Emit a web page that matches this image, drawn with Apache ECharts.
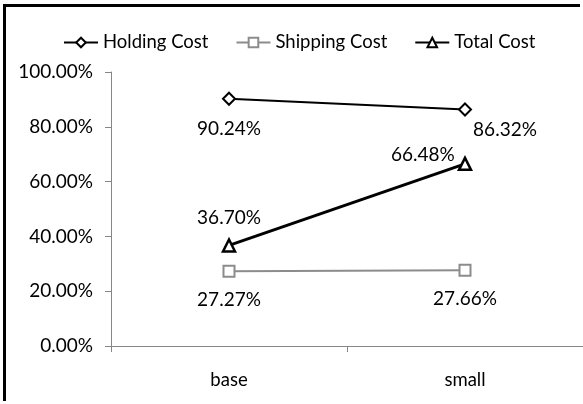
<!DOCTYPE html>
<html>
<head>
<meta charset="utf-8">
<script src="https://cdn.jsdelivr.net/npm/echarts@6/dist/echarts.min.js"></script>
<style>
  html, body { margin: 0; padding: 0; background: #fff; overflow: hidden; }
  #wrap { position: relative; width: 583px; height: 404px; overflow: hidden; }
  #chart { position: absolute; left: 0; top: 0; width: 583px; height: 404px; }
  #frame { position: absolute; left: 3px; top: 4px; width: 577px; height: 397px;
           border-left: 3px solid #000; border-top: 3px solid #000; pointer-events: none; box-sizing: border-box; }
</style>
</head>
<body>
<div id="wrap">
  <div id="chart"></div>
  <div id="frame"></div>
</div>
<script>
const categories = ['base', 'small'];
const holdingCost = [90.24, 86.32];
const shippingCost = [27.27, 27.66];
const totalCost = [36.70, 66.48];
const seriesNames = ['Holding Cost', 'Shipping Cost', 'Total Cost'];

const FONT = 'Lato';
const FS = 18.5;
const NFS = 19;
const pct = v => v.toFixed(2) + '%';

function items(values, labelFor) {
  return values.map((v, i) => ({ value: v, label: labelFor(i) }));
}

const chart = echarts.init(document.getElementById('chart'), null, { renderer: 'canvas' });
chart.setOption({
  animation: false,
  backgroundColor: '#fff',
  textStyle: { fontFamily: FONT },
  legend: {
    left: 58,
    top: 28,
    itemWidth: 34,
    itemHeight: 12,
    itemGap: 27,
    textStyle: { fontFamily: FONT, fontSize: FS, color: '#000' },
    data: seriesNames
  },
  grid: { left: 111, right: 0, top: 72, bottom: 58 },
  xAxis: {
    type: 'category',
    data: categories,
    axisLine: { lineStyle: { color: '#868686', width: 1 } },
    axisTick: { show: true, length: 6, lineStyle: { color: '#868686' } },
    axisLabel: { fontFamily: FONT, fontSize: FS, color: '#000', margin: 25 }
  },
  yAxis: {
    type: 'value',
    min: 0, max: 100, interval: 20,
    axisLine: { show: true, lineStyle: { color: '#868686', width: 1 } },
    axisTick: { show: true, length: 6, lineStyle: { color: '#868686' } },
    splitLine: { show: false },
    axisLabel: { fontFamily: FONT, fontSize: NFS, color: '#000', margin: 18, formatter: pct }
  },
  series: [
    {
      name: seriesNames[0], type: 'line',
      data: items(holdingCost, i => i === 0
        ? { position: 'bottom', distance: 14 }
        : { position: 'bottom', distance: 14, offset: [40, -10] }),
      symbol: 'diamond', symbolSize: 12,
      lineStyle: { color: '#000', width: 2 },
      itemStyle: { color: '#fff', borderColor: '#000', borderWidth: 2 },
      label: { show: true, formatter: p => pct(p.value), fontFamily: FONT, fontSize: NFS, color: '#000' }
    },
    {
      name: seriesNames[1], type: 'line',
      data: items(shippingCost, () => ({ position: 'bottom', distance: 13 })),
      symbol: 'rect', symbolSize: 11,
      lineStyle: { color: '#8c8c8c', width: 2 },
      itemStyle: { color: '#fff', borderColor: '#8c8c8c', borderWidth: 2 },
      label: { show: true, formatter: p => pct(p.value), fontFamily: FONT, fontSize: NFS, color: '#000' }
    },
    {
      name: seriesNames[2], type: 'line',
      data: items(totalCost, i => i === 0
        ? { position: 'top', distance: 11 }
        : { position: 'left', distance: 3, offset: [0, -9] }),
      symbol: 'triangle', symbolSize: 12,
      lineStyle: { color: '#000', width: 3 },
      itemStyle: { color: '#fff', borderColor: '#000', borderWidth: 2.5 },
      label: { show: true, formatter: p => pct(p.value), fontFamily: FONT, fontSize: NFS, color: '#000' }
    }
  ]
});
</script>
</body>
</html>
